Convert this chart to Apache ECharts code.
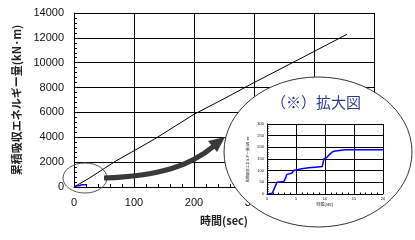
<!DOCTYPE html>
<html>
<head>
<meta charset="utf-8">
<script src="https://cdn.jsdelivr.net/npm/echarts@6/dist/echarts.min.js"></script>
<style>html,body{margin:0;padding:0;background:#fff;}#c{width:415px;height:240px;}</style>
</head>
<body>
<div id="c"></div>
<script>
// Main chart data
var mainTime   = [0, 25, 70, 105, 135, 200, 250, 300, 350, 400, 455];
var mainEnergy = [0, 700, 2100, 3050, 3880, 5850, 7100, 8400, 9650, 10900, 12290];
// Enlarged (inset) data: first 20 seconds
var insetTime   = [0, 0.9, 1.2, 1.55, 1.7, 2.9, 3.2, 3.4, 3.7, 4.3, 4.6, 4.9, 6, 7.2, 8.3, 9.5, 9.65, 9.8, 10.2, 10.3, 10.9, 11.3, 11.8, 13.5, 20];
var insetEnergy = [0, 3, 5, 40, 50, 54, 68, 83, 86, 90, 101, 104, 108, 112, 115, 118, 130, 151, 154, 161, 172, 181, 184, 190, 190];
// Axis texts
var xName = '時間(sec)';
var yName = '累積吸収エネルギー量(kN·m)';
var insetXName = '時間[sec]';
var insetYName = '累積吸収エネルギー量(kN·m)';
var insetTitle = '（※）拡大図';

function pairs(xs, ys){ return xs.map(function(x,i){ return [x, ys[i]]; }); }

var chart = echarts.init(document.getElementById('c'), null, {renderer:'canvas'});
var jp = '"Noto Sans CJK JP", sans-serif';
var lat = '"Liberation Sans", Arial, sans-serif';

function axisCommon(z, fs){
  return {
    axisLine:{show:true, lineStyle:{color:'#000', width:1}},
    axisTick:{show:true, inside:true, length: fs>6?3:1.5, lineStyle:{color:'#000'}},
    minorTick:{show:true, splitNumber:5, length: fs>6?3:1.5, lineStyle:{color:'#000'}},
    splitLine:{show:true, lineStyle:{color:'#000', width:1}},
    axisLabel:{color:'#111', fontSize:fs, fontFamily:lat, margin: fs>6?10:3,
               formatter:function(v){ return String(v); }},
    zlevel:z
  };
}

var option = {
  animation:false,
  backgroundColor:'#fff',
  grid:[
    {left:74, right:41, top:13, bottom:53, containLabel:false, zlevel:0},
    {left:267, top:124, width:116, height:70, containLabel:false, zlevel:2}
  ],
  xAxis:[
    Object.assign(axisCommon(0, 11), {
      type:'value', gridIndex:0, min:0, max:500, interval:100,
      name:xName, nameLocation:'middle', nameGap:28,
      nameTextStyle:{fontFamily:jp, fontSize:11, fontWeight:'bold', color:'#222'}
    }),
    Object.assign(axisCommon(2, 4), {
      type:'value', gridIndex:1, min:0, max:20, interval:5,
      name:insetXName, nameLocation:'middle', nameGap:8,
      nameTextStyle:{fontFamily:jp, fontSize:4, color:'#222'}
    })
  ],
  yAxis:[
    Object.assign(axisCommon(0, 11), {
      type:'value', gridIndex:0, min:0, max:14000, interval:2000,
      name:yName, nameLocation:'middle', nameGap:49,
      nameTextStyle:{fontFamily:jp, fontSize:11, fontWeight:'bold', color:'#222'}
    }),
    Object.assign(axisCommon(2, 4), {
      type:'value', gridIndex:1, min:0, max:300, interval:50,
      name:insetYName, nameLocation:'middle', nameGap:18,
      nameTextStyle:{fontFamily:jp, fontSize:3.5, color:'#223'}
    })
  ],
  series:[
    {type:'line', xAxisIndex:0, yAxisIndex:0, data:pairs(mainTime, mainEnergy),
     showSymbol:false, lineStyle:{color:'#000', width:1}, zlevel:0, z:3},
    {type:'line', xAxisIndex:0, yAxisIndex:0, data:pairs(insetTime, insetEnergy),
     showSymbol:false, lineStyle:{color:'#0000ff', width:1.5}, zlevel:0, z:4},
    {type:'line', xAxisIndex:1, yAxisIndex:1, data:pairs(insetTime, insetEnergy),
     showSymbol:false, lineStyle:{color:'#0000ff', width:1.5}, zlevel:2, z:4}
  ],
  graphic:{elements:[
    {type:'ellipse', zlevel:0, z:50, silent:true,
     shape:{cx:85, cy:178, rx:22, ry:15},
     style:{fill:null, stroke:'#555', lineWidth:1}},
    {type:'bezierCurve', zlevel:0, z:50, silent:true,
     shape:{x1:104, y1:178, cpx1:160, cpy1:176, cpx2:190, cpy2:166, x2:214, y2:146},
     style:{fill:null, stroke:'#3a3a3a', lineWidth:5}},
    {type:'polygon', zlevel:0, z:51, silent:true,
     shape:{points:[[225,137],[208,141],[217,152]]},
     style:{fill:'#3a3a3a'}},
    {type:'ellipse', zlevel:1, z:10, silent:true,
     shape:{cx:318, cy:152, rx:94, ry:75},
     style:{fill:'#fff', stroke:'#333', lineWidth:1}},
    {type:'text', zlevel:1, z:11, silent:true,
     style:{x:316, y:102, text:insetTitle, fill:'#2b3a9a', font:'15px "Noto Sans CJK JP", sans-serif',
            textAlign:'center', textVerticalAlign:'middle'}}
  ]}
};
chart.setOption(option);
</script>
</body>
</html>
